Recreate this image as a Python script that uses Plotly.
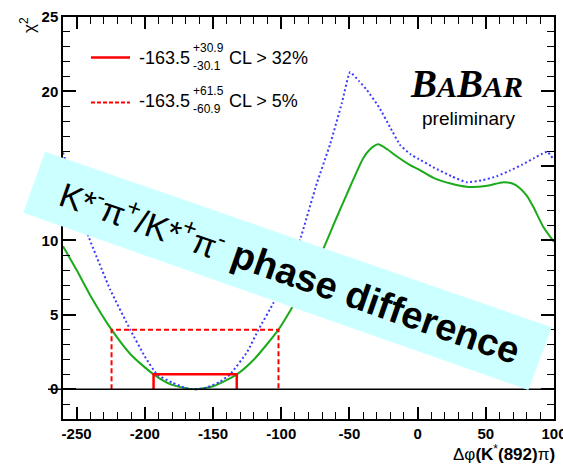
import plotly.graph_objects as go

# ---- chi^2 scans versus the phase difference (degrees) ----
phi_green = [-260, -250, -240, -224.4, -210, -193.6, -180, -163.5, -150, -132.6,
             -120, -102, -90, -80, -69, -60, -49.5, -40, -35, -29, -22, -17.7,
             -5.5, 0, 11.6, 25, 36, 50, 63, 70, 75, 80, 84.8, 92.2, 100]
chi2_green = [9.6, 8.0, 6.3, 4.0, 2.3, 1.0, 0.29, 0.0, 0.2, 1.0,
              2.0, 4.0, 5.8, 7.5, 9.46, 11.4, 13.6, 15.5, 16.1, 16.45, 16.1, 15.8,
              15.05, 14.8, 14.2, 13.8, 13.6, 13.65, 13.9, 13.8, 13.5, 13.0, 12.25, 10.9, 9.9]

phi_blue = [-260, -250, -241, -225.3, -210.7, -200, -191.1, -180, -170, -163.5,
            -155, -145, -137.4, -125, -116.7, -105.7, -95, -86, -74, -64, -55.6,
            -49.5, -43, -37.2, -28, -20.2, -12.8, -5.5, 0, 11.6, 25, 36, 48, 58,
            68, 77, 85, 91, 95, 100]
chi2_blue = [15.9, 12.9, 10.2, 6.67, 4.0, 2.2, 1.0, 0.45, 0.07, 0.0,
             0.1, 0.5, 1.0, 2.5, 4.0, 5.8, 8.0, 10.1, 13.8, 16.5, 19.2,
             21.3, 20.7, 20.1, 18.9, 17.6, 16.4, 15.8, 15.5, 14.9, 14.3, 13.9, 14.05, 14.3,
             14.7, 15.1, 15.5, 15.8, 15.95, 15.4]

# ---- fitted central value and intervals ----
central = -163.5
err_68 = (30.9, 30.1)    # (+, -) at delta chi2 = 1
err_95 = (61.5, 60.9)    # (+, -) at delta chi2 = 4
level_68 = 1.0
level_95 = 4.0
cl_68 = "32%"
cl_95 = "5%"

x_ticks = [-250, -200, -150, -100, -50, 0, 50, 100]
x_ticktext = ["-250", "-200", "-150", "-100", "-50", "0", "50", "100"]
y_ticks = [0, 5, 10, 15, 20, 25]

RED = "#ff0000"
GREEN = "#1aaa1a"
BLUE = "#3c3cff"
SANS = "Liberation Sans"

# plot-area geometry in pixels
W_FIG, H_FIG = 563, 464
L, T, R, B = 63, 17, 9, 45
PW, PH = W_FIG - L - R, H_FIG - T - B


def px(x):
    return (x - L) / PW


def py(y):
    return (T + PH - y) / PH


fig = go.Figure()

fig.add_trace(go.Scatter(x=phi_green, y=chi2_green, mode="lines",
                         line=dict(color=GREEN, width=2, shape="spline", smoothing=0.6),
                         hoverinfo="skip"))
fig.add_trace(go.Scatter(x=phi_blue, y=chi2_blue, mode="lines",
                         line=dict(color=BLUE, width=2, dash="2px,2.5px",
                                   shape="spline", smoothing=0.4),
                         hoverinfo="skip"))

# interval boxes
lo95, hi95 = central - err_95[1], central + err_95[0]
lo68, hi68 = central - err_68[1], central + err_68[0]
fig.add_trace(go.Scatter(x=[lo95, lo95, hi95, hi95], y=[0, level_95, level_95, 0],
                         mode="lines", line=dict(color=RED, width=2, dash="5px,3px"),
                         hoverinfo="skip"))
fig.add_trace(go.Scatter(x=[lo68, lo68, hi68, hi68], y=[0, level_68, level_68, 0],
                         mode="lines", line=dict(color=RED, width=2.5),
                         hoverinfo="skip"))

shapes = []
# horizontal line at chi2 = 0 that runs through the axis label
shapes.append(dict(type="line", xref="paper", yref="y", x0=px(48), x1=1, y0=0, y1=0,
                   line=dict(color="black", width=1.5), layer="above"))
# legend samples
shapes.append(dict(type="line", xref="paper", yref="paper", x0=px(91), x1=px(130),
                   y0=py(57.5), y1=py(57.5), line=dict(color=RED, width=2.5)))
shapes.append(dict(type="line", xref="paper", yref="paper", x0=px(91), x1=px(130),
                   y0=py(102.5), y1=py(102.5), line=dict(color=RED, width=2, dash="4px,2px")))
# tilted banner
corners = [(45, 151.7), (551.7, 327.3), (528.3, 390), (23.3, 212.7)]
path = "M " + " L ".join(f"{px(a):.5f},{py(b):.5f}" for a, b in corners) + " Z"
shapes.append(dict(type="path", xref="paper", yref="paper", path=path,
                   fillcolor="#ccffff", line=dict(width=0), layer="above"))

ann = []


def text(x, y, s, size, xanchor="left", family=SANS, color="black", angle=0):
    ann.append(dict(xref="paper", yref="paper", x=px(x), y=py(y), text=s,
                    showarrow=False, xanchor=xanchor, yanchor="middle",
                    textangle=angle, font=dict(family=family, size=size, color=color)))


# legend entries
for yrow, err, cl in [(58, err_68, cl_68), (101, err_95, cl_95)]:
    text(137, yrow, f"{central}", 18)
    text(191, yrow - 10.5, f"+{err[0]}", 12)
    text(191, yrow + 7.5, f"-{err[1]}", 12)
    text(227, yrow, f"CL &gt; {cl}", 18)

# experiment logo
ann.append(dict(xref="paper", yref="paper", x=px(466), y=py(84),
                text="<b><i>B<span style='font-size:30px'>A</span>B"
                     "<span style='font-size:30px'>AR</span></i></b>",
                showarrow=False, xanchor="center", yanchor="middle",
                font=dict(family="Liberation Serif", size=39, color="black")))
text(468, 119, "preliminary", 19, xanchor="center")

# axis titles
text(28, 25, "χ<sup>2</sup>", 17, xanchor="center", angle=-90)
ann.append(dict(xref="paper", yref="paper", x=px(557), y=py(453),
                text="Δφ<b>(K</b><sup>*</sup><b>(892)</b>π<b>)</b>",
                showarrow=False, xanchor="right", yanchor="middle",
                font=dict(family=SANS, size=17, color="black")))

# banner caption
text(290, 271,
     "<span style='font-size:34px'>K*<sup>-</sup>π<sup>+</sup>/K*<sup>+</sup>π<sup>-</sup></span>"
     " <b>phase difference</b>",
     38, xanchor="center", angle=19.3)

axis_common = dict(showgrid=False, zeroline=False, showline=True, linecolor="black",
                   linewidth=1.5, mirror="allticks", ticks="inside", tickcolor="black",
                   tickwidth=1.5, ticklabeloverflow="allow", automargin=False,
                   tickfont=dict(family=SANS, size=15, color="black", weight="bold"))

fig.update_layout(
    width=W_FIG, height=H_FIG,
    margin=dict(l=L, r=R, t=T, b=B, autoexpand=False),
    paper_bgcolor="white", plot_bgcolor="white",
    showlegend=False,
    xaxis=dict(range=[-260, 100], tickvals=x_ticks, ticktext=x_ticktext, ticklen=12,
               minor=dict(dtick=10, ticklen=7, ticks="inside", tickcolor="black",
                          tickwidth=1, showgrid=False),
               **axis_common),
    yaxis=dict(range=[-2, 25], tickvals=y_ticks, ticklen=13,
               minor=dict(dtick=1, ticklen=7, ticks="inside", tickcolor="black",
                          tickwidth=1, showgrid=False),
               **axis_common),
    shapes=shapes,
    annotations=ann,
)

fig.write_html("out.html")
